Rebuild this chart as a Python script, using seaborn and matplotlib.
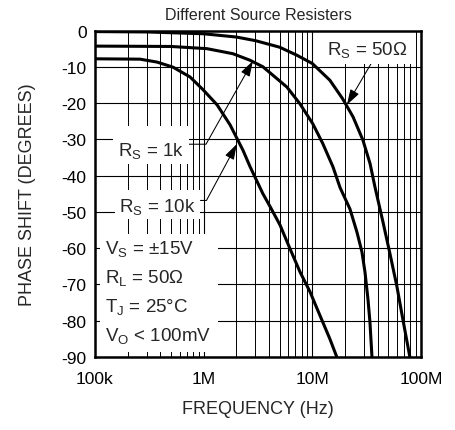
import numpy as np
import pandas as pd
import seaborn as sns
import matplotlib.pyplot as plt
from matplotlib.path import Path
from matplotlib.ticker import LogLocator, NullFormatter

# phase shift (deg) vs frequency (Hz)
freq_50 = [1e5, 3e5, 1e6, 2e6, 3e6, 5e6, 7.2e6, 1e7, 1.45e7, 1.9e7, 2.37e7, 2.92e7, 3.4e7,
           3.77e7, 4.47e7, 5.18e7, 6e7, 6.8e7, 7.9e7]
phase_50 = [-0.3, -0.4, -0.9, -1.8, -2.8, -4.6, -6.8, -9.1, -13.7, -18.8, -23.8, -30.2, -36.7,
            -43.1, -52.8, -61.5, -70.5, -79.5, -90.0]

freq_1k = [1e5, 5e5, 1.07e6, 1.86e6, 2.67e6, 3.51e6, 5.84e6, 7.69e6, 1.01e7, 1.25e7, 1.55e7,
           1.8e7, 2.22e7, 2.57e7, 2.86e7, 3.05e7, 3.25e7, 3.39e7, 3.54e7]
phase_1k = [-4.3, -4.4, -5.0, -6.4, -8.2, -10.0, -15.6, -20.2, -25.7, -31.2, -37.6,
            -43.3, -49.2, -55.5, -61.0, -66.5, -74.0, -80.3, -90.0]

freq_10k = [1e5, 2.6e5, 3.72e5, 5.22e5, 7.49e5, 9.86e5, 1.33e6, 1.75e6, 2.3e6, 2.67e6, 3.51e6,
            4.08e6, 5.04e6, 6.22e6, 7.69e6, 9.51e6, 1.17e7, 1.45e7, 1.68e7]
phase_10k = [-7.8, -7.9, -8.7, -10.1, -12.8, -16.3, -20.5, -26.0, -33.0, -37.5, -45.0,
             -48.5, -53.6, -60.1, -66.5, -72.0, -78.4, -85.0, -90.0]

x_ticks = [1e5, 1e6, 1e7, 1e8]
x_labels = ['100k', '1M', '10M', '100M']
y_ticks = list(range(-90, 1, 10))

df = pd.concat([
    pd.DataFrame({'freq': freq_50, 'phase': phase_50, 'rs': '50'}),
    pd.DataFrame({'freq': freq_1k, 'phase': phase_1k, 'rs': '1k'}),
    pd.DataFrame({'freq': freq_10k, 'phase': phase_10k, 'rs': '10k'}),
])


def pad_box(left, right, bottom, top):
    # white label box with separate padding per side (fraction of font size)
    def box(x0, y0, width, height, mutation_size):
        xa = x0 - left * mutation_size
        xb = x0 + width + right * mutation_size
        ya = y0 - bottom * mutation_size
        yb = y0 + height + top * mutation_size
        return Path([(xa, ya), (xb, ya), (xb, yb), (xa, yb), (xa, ya)], closed=True)
    return box


sns.set_style('white')
plt.rcParams['font.family'] = ['Liberation Sans', 'DejaVu Sans']
plt.rcParams['mathtext.fontset'] = 'custom'
plt.rcParams['mathtext.rm'] = 'Liberation Sans'
plt.rcParams['mathtext.it'] = 'Liberation Sans'
plt.rcParams['axes.unicode_minus'] = False

fig = plt.figure(figsize=(4.56, 4.31), dpi=100)
ax = fig.add_axes([0.2083, 0.1694, 0.7149, 0.7575])

sns.lineplot(data=df, x='freq', y='phase', units='rs', estimator=None, sort=False,
             color='black', lw=2.2, ax=ax, legend=False, zorder=3)

ax.set_xscale('log')
ax.set_xlim(1e5, 1e8)
ax.set_ylim(-90, 0)
ax.set_xticks(x_ticks)
ax.set_xticklabels(x_labels)
ax.xaxis.set_minor_locator(LogLocator(base=10, subs=np.arange(2, 10)))
ax.xaxis.set_minor_formatter(NullFormatter())
ax.set_yticks(y_ticks)
ax.tick_params(axis='both', which='both', length=0, labelsize=12.5, colors='black')
ax.tick_params(axis='x', pad=10)
ax.tick_params(axis='y', pad=6)
ax.grid(True, which='major', color='black', lw=0.8)
ax.grid(True, which='minor', axis='x', color='black', lw=0.7)
for s in ax.spines.values():
    s.set_linewidth(1.8)
    s.set_color('black')
    s.set_zorder(6)

ax.set_title('Different Source Resisters', fontsize=11.5, pad=8)
ax.set_xlabel('FREQUENCY (Hz)', fontsize=13)
ax.set_ylabel('PHASE SHIFT (DEGREES)', fontsize=13)
ax.xaxis.set_label_coords(0.5, -0.132)
ax.yaxis.set_label_coords(-0.18, 0.5)

arrow = dict(arrowstyle='-|>,head_length=0.7,head_width=0.22', color='black', lw=0.75,
             shrinkA=0, shrinkB=0)
fs = 13.5

ax.annotate(r'R$_{\mathrm{S}}$ = 50Ω', xy=(2.08e7, -20.5), xytext=(3.21e7, -5.1), fontsize=fs,
            ha='center', va='center', zorder=5,
            bbox=dict(boxstyle=pad_box(0.35, 0.25, 0.27, 0.6), fc='white', ec='none'),
            arrowprops=dict(arrow, relpos=(0.58, 0.0), patchA=None))
ax.annotate(r'R$_{\mathrm{S}}$ = 1k', xy=(2.84e6, -8.4), xytext=(3.27e5, -33.0), fontsize=fs,
            ha='center', va='center', zorder=5,
            bbox=dict(boxstyle=pad_box(0.25, 0.25, 0.2, 0.75), fc='white', ec='none'),
            arrowprops=dict(arrow, relpos=(0.5, 0.8),
                            connectionstyle='angle,angleA=0,angleB=60.6,rad=0'))
ax.annotate(r'R$_{\mathrm{S}}$ = 10k', xy=(2.02e6, -31.3), xytext=(3.76e5, -48.5), fontsize=fs,
            ha='center', va='center', zorder=5,
            bbox=dict(boxstyle=pad_box(0.25, 0.25, 0.15, 0.35), fc='white', ec='none'),
            arrowprops=dict(arrow, relpos=(0.5, 0.8),
                            connectionstyle='angle,angleA=0,angleB=61.7,rad=0'))

cond = '\n'.join([r'V$_{\mathrm{S}}$ = ±15V', r'R$_{\mathrm{L}}$ = 50Ω',
                  r'T$_{\mathrm{J}}$ = 25°C', r'V$_{\mathrm{O}}$ < 100mV'])
ax.text(1.236e5, -72.0, cond, fontsize=fs, ha='left', va='center', linespacing=1.6, zorder=5,
        bbox=dict(boxstyle=pad_box(0.25, 0.35, 0.35, 0.25), fc='white', ec='none'))

fig.savefig('out.png', dpi=100)
